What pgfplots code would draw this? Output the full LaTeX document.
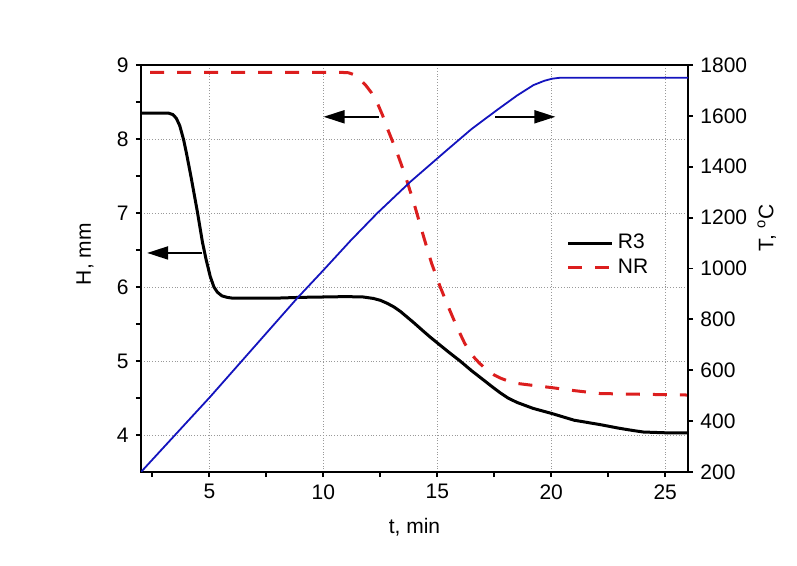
\documentclass[border=0pt]{standalone}
\usepackage{fontspec}
\setmainfont{Liberation Sans}
\usepackage{pgfplots}
\pgfplotsset{compat=1.18}
\usetikzlibrary{arrows.meta}
\definecolor{cred}{RGB}{220,30,30}
\definecolor{cblue}{RGB}{20,20,190}
\begin{document}
\fontsize{10.3}{12}\selectfont
\begin{tikzpicture}
\pgfplotsset{
  common/.style={
    scale only axis, width=273.5pt, height=203.5pt,
    xmin=2, xmax=26,
    tick align=outside, major tick length=2.6pt, minor tick length=2.6pt,
    axis line style={line width=0.9pt},
    every tick/.style={line width=0.9pt, black},
    /pgf/number format/assume math mode=true,
    /pgf/number format/1000 sep={},
    ticklabel style={font=\fontsize{10.5}{12}\selectfont},
    label style={font=\fontsize{10.5}{12}\selectfont},
  }
}
\begin{axis}[common, name=main,
  ymin=3.5, ymax=9,
  xtick pos=left, ytick pos=left,
  xtick={5,10,15,20,25},
  minor xtick={2.5,7.5,12.5,17.5,22.5},
  ytick={4,5,6,7,8,9},
  minor ytick={4.5,5.5,6.5,7.5,8.5},
  grid=major, grid style={densely dotted, gray!80, line width=0.4pt},
  xlabel={t, min},
  xlabel style={at={(axis description cs:0.5,-0.135)}, anchor=center},
  ylabel={H, mm},
  ylabel style={at={(axis description cs:-0.1024,0.535)}, anchor=center},
  legend style={draw=none, fill=none, at={(axis description cs:0.778,0.595)}, anchor=north west,
    inner xsep=0pt, inner ysep=0pt, font=\fontsize{10.5}{12}\selectfont, row sep=-0.5pt,
    /tikz/every even column/.append style={column sep=0pt}},
  legend cell align=left,
  legend image code/.code={\draw[#1] (0pt,0pt) -- (22pt,0pt);},
]
\addplot[black, line width=1.5pt, line join=round] coordinates {
(2,8.35) (3.0,8.35) (3.2,8.35) (3.4,8.33) (3.55,8.28) (3.7,8.18) (3.87,7.99) (4.0,7.8)
(4.2,7.48) (4.46,7.04) (4.7,6.6) (4.85,6.38) (5.04,6.14) (5.2,6.0) (5.35,5.93) (5.55,5.88)
(5.78,5.86) (6,5.85) (7,5.85) (8,5.85) (9,5.86) (10,5.865)
(11,5.87) (11.75,5.865) (12.2,5.845) (12.5,5.82) (12.8,5.78) (13.1,5.73) (13.38,5.67)
(13.96,5.52) (14.4,5.40) (14.7,5.32) (15.06,5.23) (15.5,5.12) (16.0,5.0) (16.5,4.87)
(17.0,4.75) (17.5,4.63) (17.76,4.57) (18.1,4.50) (18.5,4.44) (19.2,4.36) (20.03,4.29)
(21,4.2) (22.15,4.14) (23,4.09) (23.6,4.06) (24.05,4.04) (25,4.03) (26,4.03)
};
\addlegendentry{R3}
\addplot[cred, line width=1.5pt, dash pattern=on 7pt off 6.5pt, line join=round] coordinates {
(2.4,8.9) (10.8,8.9) (11.1,8.895) (11.35,8.87) (11.6,8.81) (11.85,8.73) (12.1,8.63)
(12.35,8.5) (12.6,8.32) (12.8,8.15) (13.23,7.82) (13.6,7.5) (13.96,7.15) (14.4,6.68)
(14.75,6.32) (15.13,6.0) (15.5,5.72) (15.86,5.46) (16.2,5.24) (16.52,5.08) (16.85,4.97)
(17.18,4.88) (17.5,4.81) (17.76,4.77) (18.1,4.73) (18.42,4.70)
(19.2,4.67) (20.03,4.64) (21,4.6) (22.15,4.56) (24,4.55) (26,4.54)
};
\addlegendentry{NR}
\draw[line width=1pt, -{Triangle[length=10.5pt,width=6.5pt]}] (axis cs:4.68,6.46) -- (axis cs:2.27,6.46);
\draw[line width=1pt, -{Triangle[length=10.5pt,width=6.5pt]}] (axis cs:12.43,8.30) -- (axis cs:10.01,8.30);
\draw[line width=1pt, -{Triangle[length=10.5pt,width=6.5pt]}] (axis cs:17.54,8.30) -- (axis cs:20.18,8.30);
\end{axis}
\begin{axis}[common,
  ymin=200, ymax=1800,
  axis x line=none, axis y line*=right,
  ytick={200,400,...,1800},
  ylabel={T, \textsuperscript{o}C},
  ylabel style={at={(axis description cs:1.144,0.6)}, anchor=center},
]
\addplot[cblue, line width=0.9pt, line join=round] coordinates {
(2,200) (5.04,496) (8.85,883) (10,993) (11.2,1110) (12.36,1217) (13.82,1341) (15.43,1466)
(16.5,1548) (17.62,1623) (18.5,1680) (19.22,1721) (19.7,1738) (20.03,1746) (20.4,1750) (26,1750)
};
\end{axis}
\pgfresetboundingbox
\path[use as bounding box] ([shift={(-70.5pt,-47pt)}]main.south west) rectangle ([shift={(54.5pt,32.5pt)}]main.north east);
\end{tikzpicture}
\end{document}
